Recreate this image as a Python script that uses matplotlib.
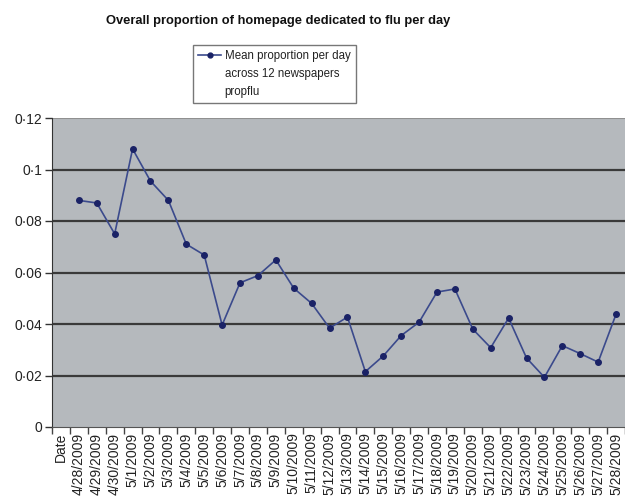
import matplotlib
matplotlib.use("Agg")
import matplotlib.pyplot as plt
from matplotlib.lines import Line2D
import numpy as np

plt.rcParams['font.family'] = ['Liberation Sans', 'DejaVu Sans']

categories = ["Date", "4/28/2009", "4/29/2009", "4/30/2009", "5/1/2009", "5/2/2009",
              "5/3/2009", "5/4/2009", "5/5/2009", "5/6/2009", "5/7/2009", "5/8/2009",
              "5/9/2009", "5/10/2009", "5/11/2009", "5/12/2009", "5/13/2009",
              "5/14/2009", "5/15/2009", "5/16/2009", "5/17/2009", "5/18/2009",
              "5/19/2009", "5/20/2009", "5/21/2009", "5/22/2009", "5/23/2009",
              "5/24/2009", "5/25/2009", "5/26/2009", "5/27/2009", "5/28/2009"]
propflu = [np.nan, 0.088, 0.087, 0.075, 0.108, 0.0955, 0.088, 0.071, 0.0668, 0.0396,
           0.056, 0.0588, 0.0649, 0.0539, 0.048, 0.0384, 0.0427, 0.0215, 0.0276,
           0.0355, 0.0407, 0.0524, 0.0536, 0.038, 0.0308, 0.0423, 0.0268, 0.0193,
           0.0316, 0.0285, 0.0252, 0.0438]
yticks = [0, 0.02, 0.04, 0.06, 0.08, 0.10, 0.12]
ytick_labels = ["0", "0·02", "0·04", "0·06", "0·08", "0·1", "0·12"]

fig = plt.figure(figsize=(6.25, 4.97), dpi=100)
ax = fig.add_axes([52/625, 1-427/497, (625-52)/625, (427-118)/497])
ax.set_facecolor("#b5b9bd")

x = np.arange(len(categories))
line_color = "#3b4a8c"
marker_color = "#1a2266"
ax.plot(x, propflu, color=line_color, lw=1.2, marker="o", ms=4,
        mfc=marker_color, mec=marker_color, zorder=3)

ax.set_xlim(-0.5, len(categories) - 0.5)
ax.set_ylim(0, 0.12)

for v in yticks[1:-1]:
    ax.axhline(v, color="#3a3a3a", lw=1.6, zorder=1)

ax.set_yticks(yticks)
ax.set_yticklabels(ytick_labels, fontsize=10, color="#222222")
ax.tick_params(axis="y", length=5, width=1, color="#333333", pad=2)

ax.set_xticks(x)
ax.set_xticklabels(categories, rotation=90, fontsize=10, color="#222222")
ax.tick_params(axis="x", which="major", length=0, pad=4)
ax.set_xticks(np.arange(-0.5, len(categories), 1.0), minor=True)
ax.tick_params(axis="x", which="minor", length=5, width=1, color="#444444")

for s in ["top", "right"]:
    ax.spines[s].set_visible(False)
ax.spines["left"].set_color("#333333")
ax.spines["bottom"].set_color("#555555")
ax.axhline(0.12, color="#909090", lw=1.5, zorder=2)

fig.text(278/625, 1-21/497, "Overall proportion of homepage dedicated to flu per day",
         ha="center", va="center", fontsize=9.3, fontweight="bold", color="#111111")

handles = [Line2D([], [], color=line_color, marker="o", ms=3.5, mfc=marker_color,
                  mec=marker_color, lw=1.2),
           Line2D([], [], color="none"), Line2D([], [], color="none")]
labels = ["Mean proportion per day", "across 12 newspapers", "propflu"]
leg = fig.legend(handles, labels, loc="upper left",
                 bbox_to_anchor=(193/625, 1-45/497), frameon=True, fancybox=False,
                 fontsize=8.3, handlelength=2.0, handletextpad=0.3,
                 labelspacing=0.5, borderpad=0.45, borderaxespad=0)
leg.get_frame().set_edgecolor("#555555")
leg.get_frame().set_linewidth(1.0)
for t in leg.get_texts():
    t.set_color("#222222")

fig.savefig("out.png", dpi=100)
